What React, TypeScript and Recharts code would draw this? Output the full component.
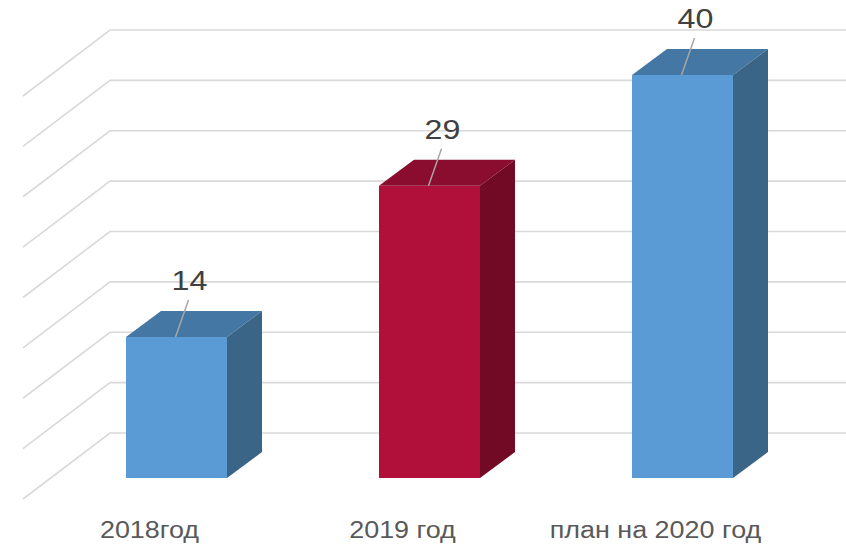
import { BarChart, Bar, XAxis, YAxis, CartesianGrid, LabelList } from "recharts";

const categories = ["2018год", "2019 год", "план на 2020 год"];
const values = [14, 29, 40];
const yTicks = [0, 5, 10, 15, 20, 25, 30, 35, 40];

const data = categories.map((name, i) => ({ name, value: values[i] }));

// цвета граней: фронт, верх, бок
const blue = { front: "#5B9BD5", top: "#4477A4", side: "#3A6587" };
const red = { front: "#B0103A", top: "#8A0C2E", side: "#730A25" };
const boxColors = [blue, red, blue];

// смещение глубины (псевдо-3D)
const DX = 35;
const DY = 26;
const FONT = "'Liberation Sans', Arial, sans-serif";

const Box = (props: any) => {
  const { x, y, width, height, index } = props;
  const c = boxColors[index % boxColors.length];
  return (
    <g>
      <rect x={x} y={y} width={width} height={height} fill={c.front} />
      <polygon
        points={`${x},${y} ${x + DX},${y - DY} ${x + width + DX},${y - DY} ${x + width},${y}`}
        fill={c.top}
      />
      <polygon
        points={`${x + width},${y} ${x + width + DX},${y - DY} ${x + width + DX},${y + height - DY} ${x + width},${y + height}`}
        fill={c.side}
      />
    </g>
  );
};

const ValueLabel = (props: any) => {
  const { x, y, width, value } = props;
  const cx = x + width / 2;
  return (
    <g>
      <line x1={cx - 1} y1={y} x2={cx + 12} y2={y - 37} stroke="#A6A6A6" strokeWidth={1.5} />
      <text
        transform={`translate(${cx + 13}, ${y - 47}) scale(1.15, 1)`}
        textAnchor="middle"
        fontSize={28}
        fontFamily={FONT}
        fill="#404040"
      >
        {value}
      </text>
    </g>
  );
};

const CategoryTick = (props: any) => {
  const { x, payload } = props;
  // базовая линия подписей под "полом"
  return (
    <text
      transform={`translate(${x - 27}, 538) scale(1.17, 1)`}
      textAnchor="middle"
      fontSize={23}
      fontFamily={FONT}
      fill="#595959"
    >
      {payload.value}
    </text>
  );
};

const WallLine = (p: any) => (
  <path
    key={`grid-${p.index}`}
    d={`M${p.x1 - 27},${p.y1 + 21} L${p.x1 + 60},${p.y1 - 45} L${p.x2 + 40},${p.y1 - 45}`}
    stroke="#D9D9D9"
    strokeWidth={1.6}
    fill="none"
  />
);

export default function App() {
  return (
    <div style={{ position: "absolute", left: 0, top: 0, background: "#fff" }}>
      <BarChart
        width={846}
        height={544}
        data={data}
        margin={{ top: 75, right: 37, bottom: 0, left: 50 }}
      >
        <CartesianGrid vertical={false} horizontal={WallLine} />
        <XAxis
          dataKey="name"
          height={66}
          axisLine={false}
          tickLine={false}
          tick={CategoryTick}
          interval={0}
        />
        <YAxis hide domain={[0, 40]} ticks={yTicks} />
        <Bar dataKey="value" barSize={101} shape={Box} isAnimationActive={false}>
          <LabelList dataKey="value" content={ValueLabel} />
        </Bar>
      </BarChart>
    </div>
  );
}
